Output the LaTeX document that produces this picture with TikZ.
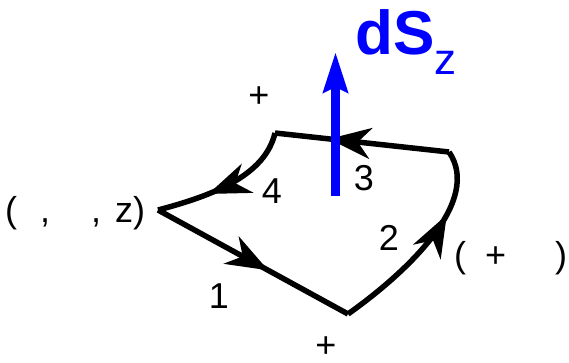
\documentclass[tikz,border=0pt]{standalone}
\usepackage{fontspec}
\setmainfont{Liberation Sans}
\usetikzlibrary{arrows.meta,decorations.markings}
\begin{document}
\begin{tikzpicture}[x=1pt,y=-1pt,
  loop/.style={line width=5.5pt,line join=miter,black},
  midarrow/.style={postaction={decorate},decoration={markings,
     mark=at position #1 with {\arrow{Stealth[length=42pt,width=31pt,inset=13pt]}}}},
  lbl/.style={font=\fontsize{36}{42}\selectfont,inner sep=0pt},
  vec/.style={line width=9pt,blue,-{Stealth[length=40pt,width=24pt,inset=5pt]}}]
\useasboundingbox (0,0) rectangle (569,363);
\coordinate (A) at (158,210);
\coordinate (B) at (348,314);
\coordinate (C) at (449,152);
\coordinate (D) at (275,133);
\coordinate (vb) at (335.5,196);
\coordinate (vt) at (335.5,52);
% edge 1
\draw[loop,midarrow=0.58] (A) -- (B);
% edge 2
\draw[loop,midarrow=0.68] (B) .. controls (410,270) and (482,200) .. (C);
% edge 3
\draw[loop,midarrow=0.69] (C) -- (D);
% edge 4
\draw[loop,midarrow=0.64] (D) .. controls (265,175) and (215,195) .. (A);
% vector
\draw[vec] (vb) -- (vt);
% labels
\node[lbl] (p1) at (259,97) {+};
\node[lbl,anchor=base] (p2) at (326,357) {+};
\node[lbl] (n1) at (219,296) {1};
\node[lbl] (n2) at (389,237.5) {2};
\node[lbl] (n3) at (364,178.5) {3};
\node[lbl] (n4) at (272,191) {4};
\node[lbl,anchor=base west] (left) at (5,222) {(\hspace{23pt},\hspace{41pt},\hspace{14pt}z)};
\node[lbl,anchor=base west] (right) at (454,267) {(\hspace{19pt}+\hspace{49pt})};
\node[inner sep=0pt,anchor=base west,blue,font=\fontsize{62}{62}\selectfont\bfseries] (ds) at (355,55)
  {dS\raisebox{-20pt}{\mdseries\fontsize{44}{44}\selectfont z}};
\end{tikzpicture}
\end{document}
